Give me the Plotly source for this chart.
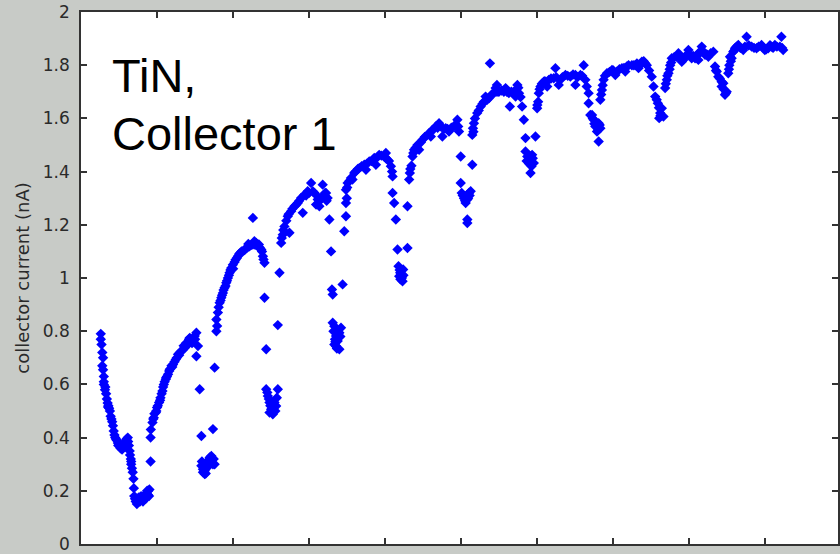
import plotly.graph_objects as go

# ---- data (x in axis units, y in nA) ----
seg1_x = [0.26,0.26,0.28,0.29,0.28,0.29,0.30,0.30,0.315,0.33,0.34,0.35,0.355,0.38,0.39,0.40,0.41,0.42,0.43,0.44,0.46,0.47,0.485,0.50,0.51,0.52,0.54,0.55,0.56,0.58,0.59,0.60,0.615,0.62,0.63,0.64,0.645,0.655,0.66,0.67,0.68,0.69,0.695,
          0.70,0.72,0.735,0.75,0.76,0.775,0.79,0.80,0.815,0.83,0.84,0.86,0.87,0.885,0.895,0.90,0.915,0.915,
          0.27,0.30,0.32,0.36,0.37,0.45,0.49,0.53,0.57,0.60,0.66,0.71,0.74,0.78,0.82,0.85,0.88]
seg1_y = [0.79,0.77,0.72,0.70,0.67,0.655,0.61,0.60,0.58,0.565,0.545,0.53,0.515,0.50,0.48,0.47,0.46,0.445,0.425,0.41,0.395,0.39,0.38,0.375,0.37,0.36,0.355,0.37,0.365,0.38,0.39,0.375,0.40,0.385,0.37,0.35,0.335,0.32,0.30,0.285,0.27,0.245,0.21,
          0.18,0.16,0.15,0.165,0.175,0.16,0.18,0.17,0.16,0.175,0.185,0.19,0.20,0.20,0.18,0.205,0.31,0.40,
          0.75,0.63,0.59,0.52,0.51,0.40,0.37,0.365,0.38,0.395,0.31,0.17,0.17,0.175,0.18,0.17,0.185]

seg2_x = [0.918,0.94,0.957,0.984,1.0,1.027,1.045,1.071,1.089,1.115,1.145,1.167,1.21,1.246,1.276,1.32,1.364,1.407,1.43,1.473,1.495,1.517,1.538,1.517,
          0.965,1.01,1.06,1.10,1.13,1.19,1.23,1.30,1.34,1.39,1.45,
          0.95,0.99,1.04,1.08,1.12,1.16,1.20,1.26,1.29,1.35,1.38,1.42,1.46,1.50,
          1.561,1.583,1.735,1.583,1.604,1.626,1.649,1.67,1.692,1.714,1.735,1.757,1.626,1.604,1.67,1.70,
          1.59,1.615,1.64,1.68,1.72,1.745]
seg2_y = [0.43,0.457,0.475,0.494,0.513,0.532,0.55,0.575,0.60,0.619,0.638,0.657,0.675,0.694,0.713,0.725,0.738,0.757,0.775,0.763,0.782,0.794,0.744,0.706,
          0.49,0.52,0.565,0.61,0.63,0.67,0.685,0.72,0.73,0.745,0.765,
          0.47,0.50,0.54,0.59,0.625,0.65,0.665,0.70,0.71,0.745,0.755,0.77,0.755,0.77,
          0.582,0.406,0.432,0.294,0.281,0.263,0.307,0.313,0.325,0.331,0.30,0.30,0.275,0.27,0.29,0.305,
          0.31,0.29,0.265,0.30,0.315,0.32]

seg3_x = [1.757,1.78,1.78,1.80,1.823,1.845,1.866,1.888,1.91,1.932,1.954,1.976,1.997,2.033,2.063,2.094,2.129,2.173,2.216,2.26,2.304,2.339,2.37,2.392,2.413,2.26,2.0,2.05,2.15,2.2,2.28,2.32,
          1.79,1.81,1.835,1.855,1.875,1.90,1.92,1.945,1.965,2.02,2.08,2.11,2.19,2.24,2.29,2.35,2.38,2.40,
          2.413,2.435,2.435,2.457,2.479,2.50,2.522,2.566,2.588,2.544,2.479,2.588,
          2.45,2.47,2.49,2.51,2.53,2.555,2.575]
seg3_y = [0.663,0.80,0.844,0.87,0.907,0.926,0.944,0.963,0.982,1.0,1.02,1.038,1.05,1.069,1.082,1.094,1.10,1.113,1.119,1.126,1.132,1.126,1.107,1.082,1.057,1.226,1.035,1.075,1.105,1.128,1.138,1.12,
          0.82,0.89,0.915,0.935,0.955,0.97,0.99,1.01,1.03,1.06,1.09,1.10,1.115,1.125,1.125,1.115,1.10,1.07,
          0.926,0.732,0.582,0.556,0.532,0.507,0.488,0.519,0.582,0.532,0.494,0.823,
          0.57,0.545,0.52,0.50,0.51,0.50,0.55]

seg4_x = [2.61,2.632,2.653,2.675,2.719,2.763,2.807,2.85,2.894,2.938,2.981,3.026,3.069,3.113,3.157,3.178,3.20,3.222,3.243,2.741,2.916,3.091,3.134,
          2.64,2.66,2.70,2.73,2.78,2.83,2.87,2.96,3.00,3.05,3.10,3.14,3.19,3.21,3.23,
          3.266,3.288,3.30,3.31,3.44,3.31,3.331,3.353,3.397,3.419,3.375,3.353,3.397,3.331,
          3.32,3.34,3.36,3.38,3.41,3.345,3.365]
seg4_y = [1.02,1.132,1.163,1.194,1.232,1.251,1.27,1.282,1.301,1.313,1.326,1.357,1.32,1.295,1.301,1.351,1.307,1.32,1.301,1.17,1.245,1.276,1.27,
          1.15,1.18,1.215,1.24,1.26,1.275,1.29,1.31,1.32,1.325,1.31,1.29,1.31,1.32,1.29,
          1.22,1.10,0.957,0.938,0.976,0.832,0.819,0.782,0.794,0.813,0.763,0.744,0.732,0.75,
          0.80,0.77,0.80,0.79,0.78,0.76,0.735]

seg5_x = [3.462,3.484,3.484,3.484,3.506,3.55,3.593,3.659,3.725,3.79,3.856,3.921,3.987,4.03,4.075,4.097,3.57,3.747,3.878,4.009,
          3.495,3.50,3.53,3.61,3.64,3.69,3.76,3.82,3.84,3.90,3.95,4.01,4.05,4.09,
          4.097,4.118,4.14,4.162,4.293,4.175,4.197,4.219,4.236,4.184,4.228,
          4.19,4.21,4.20,4.24]
seg5_y = [1.176,1.232,1.282,1.332,1.357,1.376,1.395,1.413,1.426,1.438,1.451,1.463,1.457,1.445,1.42,1.382,1.37,1.407,1.426,1.47,
          1.30,1.34,1.365,1.40,1.41,1.42,1.43,1.44,1.445,1.455,1.46,1.45,1.44,1.40,
          1.32,1.282,1.22,1.107,1.113,1.044,1.02,1.00,1.032,1.007,0.988,
          1.03,1.015,0.995,1.01]

seg6_x = [4.293,4.315,4.324,4.345,4.359,4.38,4.424,4.49,4.555,4.621,4.665,4.731,4.796,4.839,4.905,4.949,4.97,4.446,4.60,4.752,4.708,
          4.33,4.37,4.40,4.47,4.52,4.58,4.64,4.69,4.77,4.82,4.87,4.92,4.96,
          4.993,5.145,4.993,5.006,5.036,5.058,5.102,5.124,5.08,5.08,5.08,
          5.02,5.05,5.07,5.11,5.09]
seg6_y = [1.27,1.37,1.395,1.422,1.457,1.482,1.50,1.52,1.538,1.557,1.57,1.57,1.563,1.551,1.57,1.595,1.551,1.482,1.532,1.532,1.582,
          1.41,1.47,1.49,1.51,1.53,1.545,1.56,1.565,1.56,1.56,1.565,1.575,1.57,
          1.457,1.426,1.357,1.32,1.30,1.282,1.32,1.326,1.295,1.22,1.207,
          1.31,1.29,1.31,1.31,1.30]

seg7_x = [5.145,5.154,5.167,5.21,5.255,5.298,5.364,5.43,5.495,5.561,5.626,5.692,5.639,5.738,5.377,5.469,5.32,5.452,5.583,5.714,5.76,
          5.16,5.18,5.23,5.28,5.34,5.40,5.47,5.53,5.60,5.66,5.72,5.75,5.78,
          5.80,5.823,5.845,5.976,5.845,5.868,5.911,5.932,5.954,5.924,5.911,
          5.86,5.89,5.94,5.90]
seg7_y = [1.538,1.563,1.582,1.62,1.645,1.663,1.676,1.695,1.70,1.70,1.695,1.70,1.645,1.726,1.807,1.726,1.682,1.714,1.714,1.682,1.695,
          1.55,1.60,1.63,1.655,1.67,1.69,1.70,1.705,1.70,1.70,1.705,1.715,1.68,
          1.645,1.595,1.526,1.532,1.476,1.457,1.445,1.463,1.432,1.42,1.395,
          1.44,1.43,1.45,1.46]

seg8_x = [5.998,6.011,6.02,6.042,6.085,6.151,6.216,6.238,6.304,6.37,6.435,6.501,6.567,6.61,6.632,6.282,6.501,6.13,
          6.00,6.03,6.06,6.10,6.18,6.25,6.33,6.40,6.47,6.53,6.59,6.65,
          6.675,6.675,6.697,6.72,6.741,6.763,6.807,6.829,6.785,6.807,
          6.73,6.75,6.78,6.80,6.82]
seg8_y = [1.638,1.663,1.695,1.72,1.738,1.745,1.751,1.789,1.745,1.763,1.757,1.763,1.763,1.80,1.745,1.726,1.726,1.72,
          1.65,1.71,1.73,1.74,1.75,1.755,1.755,1.76,1.765,1.755,1.76,1.72,
          1.695,1.657,1.613,1.613,1.595,1.57,1.582,1.563,1.551,1.513,
          1.60,1.58,1.57,1.56,1.575]

seg9_x = [6.829,6.85,6.872,6.916,6.982,7.047,7.113,7.178,7.244,7.31,7.375,7.42,7.44,7.157,7.331,7.026,
          6.84,6.86,6.89,6.95,7.00,7.08,7.14,7.20,7.27,7.35,7.40,7.47,
          7.505,7.528,7.55,7.585,7.616,7.603,7.637,7.659,
          7.57,7.60,7.62]
seg9_y = [1.67,1.707,1.745,1.77,1.782,1.776,1.789,1.795,1.80,1.807,1.813,1.807,1.80,1.776,1.789,1.763,
          1.69,1.725,1.76,1.775,1.78,1.785,1.79,1.80,1.80,1.80,1.815,1.78,
          1.757,1.72,1.682,1.657,1.62,1.601,1.638,1.607,
          1.67,1.64,1.61]

seg10_x = [7.681,7.703,7.725,7.747,7.768,7.834,7.90,7.944,7.987,8.03,8.075,8.118,8.162,8.206,8.249,8.315,7.856,8.118,
           7.69,7.71,7.74,7.76,7.80,7.88,7.92,7.97,8.01,8.05,8.10,8.14,8.19,8.23,8.28,
           8.337,8.36,8.38,8.424,8.446,8.49,8.468,8.424,
           8.35,8.40,8.45,8.48]
seg10_y = [1.714,1.745,1.77,1.80,1.826,1.832,1.813,1.832,1.857,1.826,1.826,1.845,1.87,1.839,1.832,1.851,1.845,1.82,
           1.73,1.76,1.785,1.81,1.83,1.83,1.82,1.84,1.84,1.835,1.835,1.85,1.85,1.84,1.845,
           1.795,1.776,1.757,1.738,1.732,1.70,1.689,1.72,
           1.78,1.75,1.71,1.695]

seg11_x = [8.511,8.525,8.534,8.577,8.60,8.643,8.708,8.752,8.818,8.883,8.949,8.992,9.036,9.08,9.124,9.21,9.233,9.19,8.555,
           8.52,8.545,8.59,8.62,8.67,8.73,8.78,8.85,8.91,8.97,9.01,9.06,9.10,9.15,9.22]
seg11_y = [1.77,1.80,1.832,1.851,1.864,1.876,1.857,1.907,1.87,1.864,1.876,1.857,1.864,1.87,1.876,1.907,1.857,1.87,1.826,
           1.785,1.815,1.855,1.87,1.865,1.87,1.875,1.865,1.87,1.865,1.86,1.875,1.865,1.87,1.865]

y_tick_vals = [0, 0.2, 0.4, 0.6, 0.8, 1.0, 1.2, 1.4, 1.6, 1.8, 2.0]
y_tick_text = ["0", "0.2", "0.4", "0.6", "0.8", "1", "1.2", "1.4", "1.6", "1.8", "2"]
x_tick_vals = [1, 2, 3, 4, 5, 6, 7, 8, 9]

xs = seg1_x + seg2_x + seg3_x + seg4_x + seg5_x + seg6_x + seg7_x + seg8_x + seg9_x + seg10_x + seg11_x
ys = seg1_y + seg2_y + seg3_y + seg4_y + seg5_y + seg6_y + seg7_y + seg8_y + seg9_y + seg10_y + seg11_y

fig = go.Figure()
fig.add_trace(go.Scatter(
    x=xs, y=ys, mode="markers",
    marker=dict(symbol="diamond", size=8, color="#0000ff", line=dict(width=0)),
    showlegend=False, hoverinfo="skip",
))

axis_col = "#333333"
fig.update_layout(
    width=840, height=554,
    margin=dict(l=81, r=0, t=12, b=9),
    paper_bgcolor="#c8cbc7",
    plot_bgcolor="#ffffff",
    font=dict(family="DejaVu Sans", size=17, color="#2a2a2a"),
    xaxis=dict(
        range=[0, 9.954], tickvals=x_tick_vals, showticklabels=False,
        ticks="inside", ticklen=6, tickwidth=1.5, tickcolor=axis_col,
        showline=True, linecolor=axis_col, linewidth=1.5, mirror="ticks",
        showgrid=False, zeroline=False,
    ),
    yaxis=dict(
        range=[0, 2], tickvals=y_tick_vals, ticktext=y_tick_text,
        ticks="inside", ticklen=6, tickwidth=1.5, tickcolor=axis_col,
        showline=True, linecolor=axis_col, linewidth=1.5, mirror="ticks",
        showgrid=False, zeroline=False,
        ticklabelstandoff=6, ticklabeloverflow="allow",
        title=dict(text="collector current (nA)", standoff=9,
                   font=dict(family="DejaVu Sans", size=18, color="#2a2a2a")),
    ),
    annotations=[
        dict(text="TiN,", xref="paper", yref="paper", x=0.038, y=0.935,
             xanchor="left", yanchor="top", showarrow=False,
             font=dict(family="Liberation Sans", size=47, color="#000000")),
        dict(text="Collector 1", xref="paper", yref="paper", x=0.038, y=0.826,
             xanchor="left", yanchor="top", showarrow=False,
             font=dict(family="Liberation Sans", size=47, color="#000000")),
    ],
)

fig.write_html("out.html", config={"displayModeBar": False},
               post_script="document.body.style.margin='0';document.body.style.overflow='hidden';")
